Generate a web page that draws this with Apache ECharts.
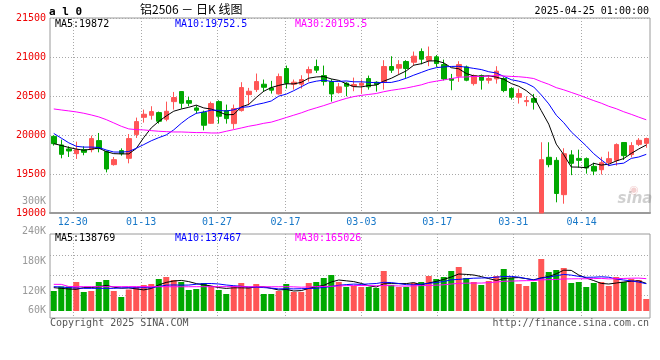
<!DOCTYPE html>
<html><head><meta charset="utf-8">
<script src="https://cdn.jsdelivr.net/npm/echarts@6/dist/echarts.min.js"></script>
<style>html,body{margin:0;padding:0;background:#fff}#c{width:660px;height:360px}</style>
</head><body><div id="c"></div>
<script>
const dates = ['12-25','12-26','12-27','12-30','12-31','01-02','01-03','01-06','01-07','01-08',
'01-09','01-10','01-13','01-14','01-15','01-16','01-17','01-20','01-21','01-22',
'01-23','01-24','01-27','02-05','02-06','02-07','02-10','02-11','02-12','02-13',
'02-14','02-17','02-18','02-19','02-20','02-21','02-24','02-25','02-26','02-27',
'02-28','03-03','03-04','03-05','03-06','03-07','03-10','03-11','03-12','03-13',
'03-14','03-17','03-18','03-19','03-20','03-21','03-24','03-25','03-26','03-27',
'03-28','03-31','04-01','04-02','04-03','04-07','04-08','04-09','04-10','04-11',
'04-14','04-15','04-16','04-17','04-18','04-21','04-22','04-23','04-24','04-25'];
const dateTickIndex = [3,12,22,31,41,51,61,70];

const opens = [19983,19872,19821,19761,19812,19812,19928,19787,19620,19800,
19701,20005,20227,20253,20287,20202,20428,20557,20441,20347,
20291,20150,20428,20313,20146,20313,20518,20582,20651,20604,
20527,20852,20651,20651,20796,20878,20762,20685,20544,20664,
20625,20638,20724,20677,20677,20878,20856,20942,20933,21070,
20955,21002,20903,20724,20754,20873,20659,20762,20702,20719,
20724,20595,20484,20428,20467,19000,19714,19675,19235,19745,
19700,19697,19598,19555,19648,19675,19904,19748,19880,19893];
const closes = [19889,19752,19795,19812,19778,19954,19825,19564,19684,19761,
19954,20172,20266,20300,20176,20304,20480,20407,20407,20317,
20125,20403,20240,20210,20339,20608,20561,20685,20612,20574,
20749,20664,20677,20711,20839,20831,20685,20527,20617,20625,
20647,20664,20617,20647,20878,20831,20903,20852,21010,20972,
21006,20916,20719,20702,20903,20702,20762,20702,20724,20818,
20570,20484,20531,20441,20420,19684,19620,19250,19760,19637,
19675,19577,19537,19645,19697,19877,19735,19864,19932,19955];
const highs = [19996,19941,19855,19915,19855,19992,20026,19800,19718,19829,
20013,20223,20326,20369,20300,20428,20552,20560,20488,20381,
20313,20428,20445,20390,20390,20677,20604,20788,20711,20694,
20788,20890,20711,20766,20878,20967,20890,20715,20668,20677,
20736,20711,20762,20689,20959,21010,20959,20959,21070,21110,
21134,21025,20967,20783,20946,20890,20775,20775,20762,20882,
20741,20612,20595,20497,20527,19907,19907,19715,19830,19805,
19812,19712,19645,19720,19787,19893,19904,19908,19960,19966];
const lows = [19864,19701,19718,19693,19740,19778,19778,19521,19607,19735,
19637,19962,20159,20197,20146,20176,20326,20339,20369,20274,
20060,20142,20146,20146,20078,20300,20381,20552,20552,20531,
20518,20595,20582,20595,20685,20796,20634,20428,20531,20497,
20561,20531,20582,20557,20582,20796,20775,20732,20890,20907,
20882,20873,20700,20574,20681,20689,20634,20582,20659,20659,
20548,20454,20403,20369,20326,19000,19586,19137,19119,19485,
19580,19505,19485,19493,19600,19607,19680,19714,19858,19836];

const ma5 = [19889,19866,19840,19820,19805,19818,19833,19787,19761,19758,
19758,19827,19967,20091,20174,20244,20305,20333,20355,20383,
20347,20332,20298,20259,20263,20360,20392,20481,20561,20608,
20636,20657,20655,20675,20728,20744,20749,20719,20700,20657,
20620,20616,20634,20640,20691,20727,20775,20822,20895,20914,
20949,20951,20925,20863,20849,20788,20758,20754,20759,20742,
20715,20660,20625,20569,20489,20312,20139,19883,19747,19590,
19588,19580,19637,19614,19626,19667,19698,19764,19821,19872];
const ma10 = [20020,19960,19900,19855,19845,19845,19840,19808,19782,19781,
19788,19830,19877,19926,19966,20001,20066,20150,20223,20278,
20295,20319,20316,20307,20323,20354,20362,20390,20410,20436,
20498,20524,20568,20618,20668,20690,20703,20687,20687,20693,
20682,20682,20676,20670,20674,20674,20696,20728,20767,20802,
20838,20863,20873,20879,20881,20869,20854,20839,20811,20795,
20752,20709,20690,20664,20615,20514,20399,20254,20158,20040,
19950,19860,19760,19681,19608,19628,19639,19700,19718,19752];
const ma30 = [20334,20321,20309,20296,20279,20257,20232,20197,20155,20112,
20078,20069,20065,20056,20048,20043,20039,20039,20035,20031,
20031,20026,20026,20048,20069,20090,20112,20129,20150,20165,
20194,20224,20254,20284,20319,20348,20377,20409,20440,20469,
20492,20508,20520,20532,20555,20573,20587,20602,20622,20643,
20673,20690,20706,20722,20741,20744,20751,20751,20755,20763,
20757,20751,20747,20738,20724,20685,20650,20607,20579,20546,
20513,20477,20441,20408,20368,20337,20298,20265,20229,20195];

const volumes = [120000,129000,129000,138000,118000,120000,138000,142000,120000,108000,
123000,128000,132000,134000,144000,148000,142000,138000,122000,124000,
136000,130000,122000,114000,130000,136000,128000,134000,114000,114000,
120000,134000,118000,118000,136000,138000,146000,152000,138000,128000,
130000,128000,128000,126000,160000,132000,128000,128000,136000,138000,
150000,144000,148000,160000,168000,146000,138000,132000,140000,150000,
164000,146000,134000,130000,138000,184000,158000,162000,166000,136000,
138000,128000,136000,138000,130000,148000,138000,144000,142000,104000];
const volMa5 = [126700,125300,124000,123300,126800,126800,128600,131200,127600,125600,
126200,124200,122200,125000,132200,137200,140000,141200,138800,134800,
132400,130000,126800,125200,126400,126400,126000,128400,128400,125200,
122000,123200,120000,120800,125200,128800,131200,138000,142000,140400,
138800,135200,130400,128000,134400,134800,134800,134800,136800,132400,
136000,139200,143200,148000,154000,153200,152000,148800,144800,141200,
144800,146400,146800,144800,142400,146400,148800,154400,161600,161200,
152000,146000,140800,135200,134000,136000,138000,139600,140400,135200];
const volMa10 = [128700,128000,126700,126000,125300,125300,125300,125300,125300,126200,
126500,126400,126700,126300,128900,131700,132100,131700,131900,133500,
134800,135000,134000,132000,130600,129400,128000,127600,126800,125800,
124200,124600,124200,124600,125200,125400,127200,129000,131400,132800,
133800,133200,134200,135000,137400,136800,135000,132600,132400,133400,
135400,137000,139000,142400,143200,144600,145600,146000,146400,147600,
149000,149200,147800,144800,141800,145600,147600,150600,153200,151800,
149200,147400,147600,148400,147600,144000,142000,140200,137800,134600];
const volMa30 = [133300,133300,129000,128800,128700,128700,128600,128600,128700,128700,
128800,128800,128700,128700,128600,128600,128500,128500,128500,128600,
128600,128600,128700,128700,128600,128600,128500,128500,128500,128500,
128500,128700,128300,127600,128200,128800,129100,129400,130000,130700,
130900,130900,130800,130500,131100,130500,130100,129700,130200,130700,
131100,131600,132500,134000,135300,135600,135900,135900,136700,137900,
139400,139800,140300,140700,140800,142300,142700,143100,144000,144300,
144500,144500,144800,145200,144200,144700,145100,145600,145800,144700];

const priceMin = 19000, priceMax = 21500, priceStep = 500;
const volLabelMin = 60000, volLabelMax = 300000, volLabelStep = 60000;

const MONO = '"DejaVu Sans Mono", monospace';
const UP = '#ff5656', DOWN = '#00a800';
const FRAME = '#9a9a9a';
const dotted = {color:'#a8a8a8', type:[1,2], width:1};
const isTick = (i) => dateTickIndex.indexOf(i) >= 0;
const up = (i) => closes[i] >= opens[i];

const candleData = dates.map((d,i)=>[opens[i], closes[i], lows[i], highs[i]]);
const volData = volumes.map((v,i)=>({value:v, itemStyle:{color: up(i)?UP:DOWN}}));

function lineS(name, data, color, xi, yi){
  return {name, type:'line', data, xAxisIndex:xi, yAxisIndex:yi, showSymbol:false, symbol:'none',
    lineStyle:{width:1, color}, itemStyle:{color}, silent:true, z:4, animation:false};
}

const chart = echarts.init(document.getElementById('c'), null, {renderer:'canvas', width:660, height:360});
chart.setOption({
  animation:false,
  backgroundColor:'#ffffff',
  grid:[
    {left:50, top:18, width:600, height:195, show:true, borderColor:FRAME, borderWidth:1},
    {left:50, top:235, width:600, height:76},
    {left:50, top:234, width:600, height:84, show:true, borderColor:FRAME, borderWidth:1},
    {left:50, top:255, width:600, height:40},
    {left:50, top:201, width:600, height:120}
  ],
  xAxis:[
    {gridIndex:0, type:'category', data:dates, boundaryGap:true, show:false},
    {gridIndex:0, type:'category', data:dates, boundaryGap:false, position:'bottom',
      axisLine:{show:true, lineStyle:{color:FRAME, width:2}}, axisTick:{show:false},
      axisLabel:{interval:(i)=>isTick(i), color:'#1878c8', fontFamily:MONO, fontSize:10, margin:4},
      splitLine:{show:true, interval:(i)=>isTick(i), lineStyle:dotted}},
    {gridIndex:1, type:'category', data:dates, boundaryGap:true, show:false},
    {gridIndex:2, type:'category', data:dates, boundaryGap:false, position:'bottom',
      axisLine:{show:false}, axisTick:{show:false}, axisLabel:{show:false},
      splitLine:{show:true, interval:(i)=>isTick(i), lineStyle:dotted}},
    {gridIndex:3, type:'category', data:dates, show:false},
    {gridIndex:4, type:'category', data:dates, show:false}
  ],
  yAxis:[
    {gridIndex:0, type:'value', min:priceMin, max:priceMax, interval:priceStep,
      axisLine:{show:false}, axisTick:{show:false},
      axisLabel:{color:'#ee0000', fontFamily:MONO, fontSize:10, margin:4, showMinLabel:true, showMaxLabel:true,
        formatter:(v)=>String(v)},
      splitLine:{show:true, lineStyle:dotted}},
    {gridIndex:1, type:'value', min:80000, max:232000, show:false},
    {gridIndex:2, type:'value', min:0, max:1, show:false},
    {gridIndex:3, type:'value', min:0, max:2, interval:1,
      axisLine:{show:false}, axisTick:{show:false}, axisLabel:{show:false},
      splitLine:{show:true, lineStyle:dotted}},
    {gridIndex:4, type:'value', min:volLabelMin, max:volLabelMax, interval:volLabelStep,
      axisLine:{show:false}, axisTick:{show:false}, splitLine:{show:false},
      axisLabel:{color:'#999999', fontFamily:MONO, fontSize:10, margin:4, lineHeight:11,
        showMinLabel:true, showMaxLabel:true,
        formatter:(v)=> v===volLabelMin ? (v/1000)+'K\n \n ' : (v/1000)+'K'}}
  ],
  series:[
    {type:'candlestick', xAxisIndex:0, yAxisIndex:0, data:candleData, barWidth:5, clip:true,
      itemStyle:{color:UP, color0:DOWN, borderColor:UP, borderColor0:DOWN, borderWidth:1}, z:3},
    lineS('MA5', ma5, '#000000', 0, 0),
    lineS('MA10', ma10, '#0000ff', 0, 0),
    lineS('MA30', ma30, '#ff00ff', 0, 0),
    {type:'bar', xAxisIndex:2, yAxisIndex:1, data:volData, barWidth:6, clip:true, z:3},
    lineS('VMA5', volMa5, '#000000', 2, 1),
    lineS('VMA10', volMa10, '#0000ff', 2, 1),
    lineS('VMA30', volMa30, '#ff00ff', 2, 1)
  ],
  graphic:[
    {type:'text', x:49, y:12, style:{text:'a l 0', font:'bold 11px '+MONO, fill:'#000', verticalAlign:'middle'}},
    {type:'text', x:140, y:9, style:{text:'铝2506 － 日K 线图', font:'12px "Noto Sans CJK SC"', fill:'#000', verticalAlign:'middle'}},
    {type:'text', x:649, y:11, style:{text:'2025-04-25 01:00:00', font:'10px '+MONO, fill:'#000', align:'right', verticalAlign:'middle'}},
    {type:'text', x:55, y:24.5, z:10, style:{text:'MA5:19872', font:'10px '+MONO, fill:'#000', verticalAlign:'middle'}},
    {type:'text', x:175, y:24.5, z:10, style:{text:'MA10:19752.5', font:'10px '+MONO, fill:'#0000ff', verticalAlign:'middle'}},
    {type:'text', x:295, y:24.5, z:10, style:{text:'MA30:20195.5', font:'10px '+MONO, fill:'#ff00ff', verticalAlign:'middle'}},
    {type:'text', x:55, y:238.5, z:10, style:{text:'MA5:138769', font:'10px '+MONO, fill:'#000', verticalAlign:'middle'}},
    {type:'text', x:175, y:238.5, z:10, style:{text:'MA10:137467', font:'10px '+MONO, fill:'#0000ff', verticalAlign:'middle'}},
    {type:'text', x:295, y:238.5, z:10, style:{text:'MA30:165026', font:'10px '+MONO, fill:'#ff00ff', verticalAlign:'middle'}},
    {type:'text', x:50, y:323.5, style:{text:'Copyright 2025 SINA.COM', font:'10px '+MONO, fill:'#555', verticalAlign:'middle'}},
    {type:'text', x:649, y:323.5, style:{text:'http://finance.sina.com.cn', font:'10px '+MONO, fill:'#555', align:'right', verticalAlign:'middle'}},
    {type:'text', x:635, y:199, z:1, style:{text:'sina', font:'italic bold 15px "DejaVu Sans"', fill:'rgba(120,120,120,0.35)', align:'center', verticalAlign:'middle'}},
    {type:'text', x:634, y:190, z:1, style:{text:'◉', font:'11px "DejaVu Sans"', fill:'rgba(220,120,120,0.35)', align:'center', verticalAlign:'middle'}}
  ]
});
</script>
</body></html>
